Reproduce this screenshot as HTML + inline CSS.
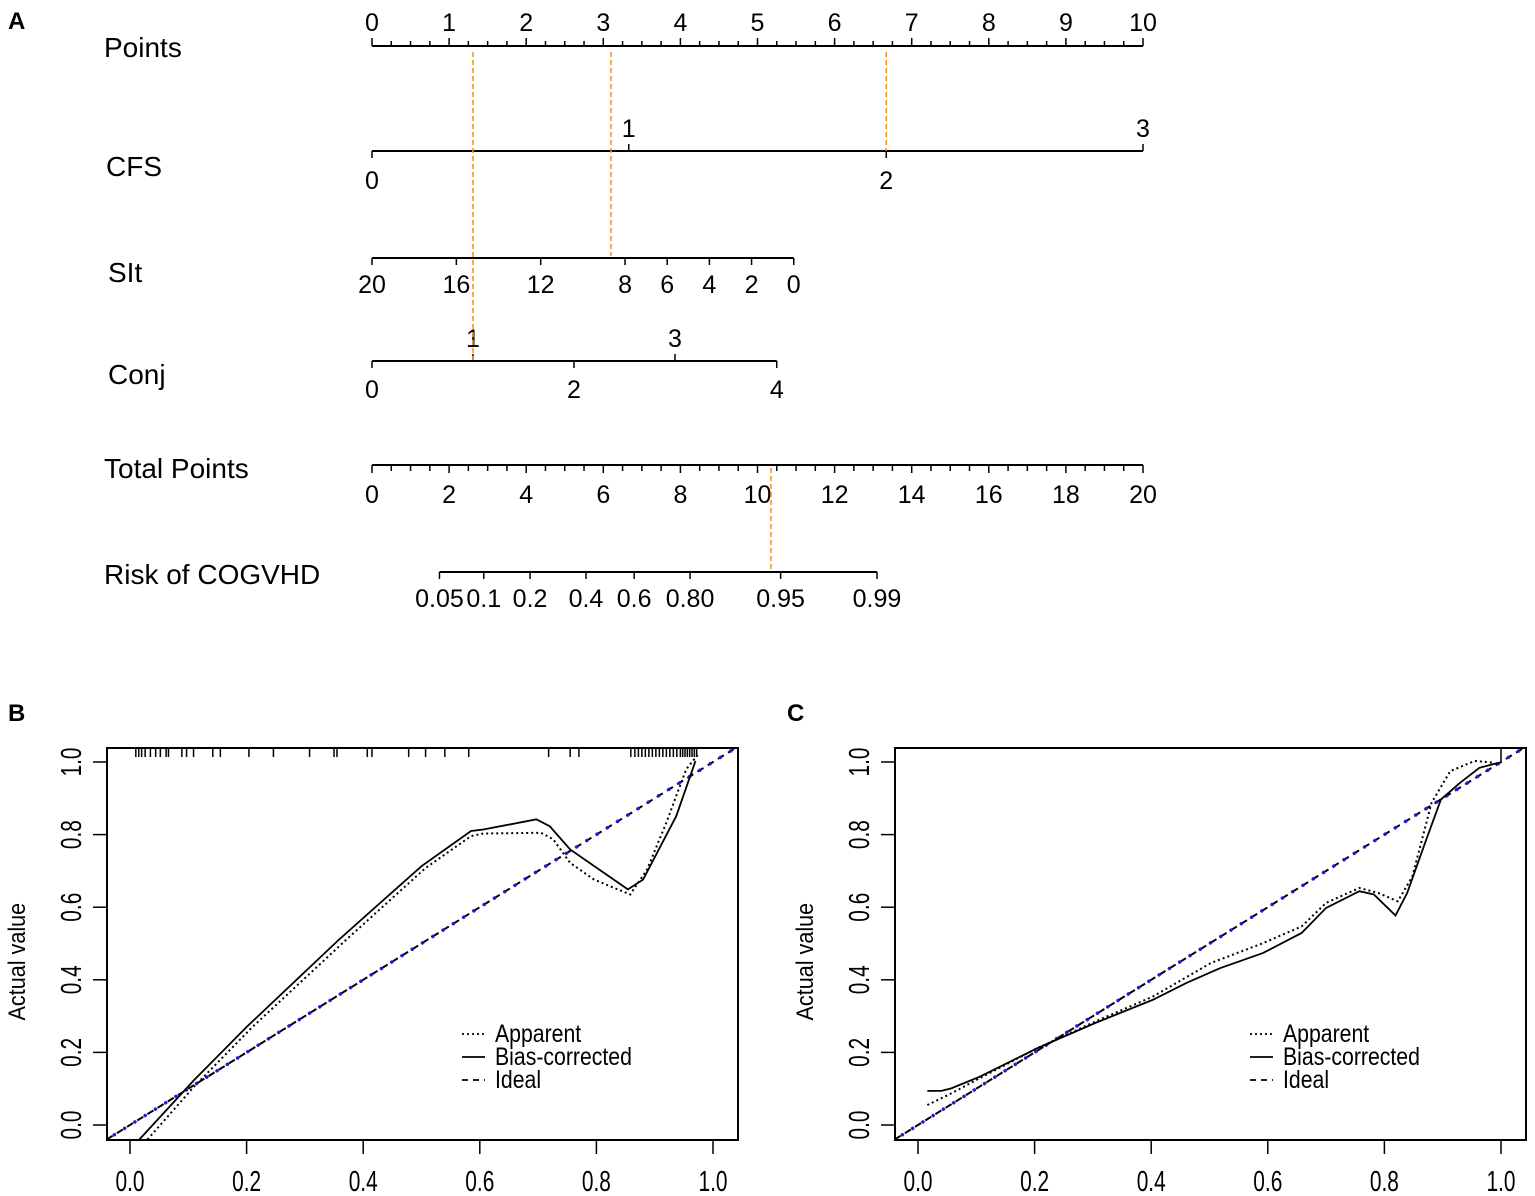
<!DOCTYPE html>
<html><head><meta charset="utf-8"><style>
html,body{margin:0;padding:0;background:#fff;}
svg{display:block;font-family:"Liberation Sans",Arial,sans-serif;}
</style></head><body>
<svg id="fig" width="1535" height="1196" viewBox="0 0 1535 1196" xmlns="http://www.w3.org/2000/svg">
<text x="8" y="29" font-size="24" font-weight="bold">A</text>
<text x="8" y="721" font-size="24" font-weight="bold">B</text>
<text x="787" y="721" font-size="24" font-weight="bold">C</text>
<g id="nomo"></g>
<g id="pb"></g>
<g id="pc"></g>
</svg>
<script>
// ---------- Nomogram data ----------
const pointsTicks=[0,1,2,3,4,5,6,7,8,9,10];
const cfsValues=[0,1,2,3];
const cfsPoints=[0,3.33,6.67,10];
const sltLabels=[20,16,12,8,6,4,2,0];
const sltMaxPoints=5.47;
const conjValues=[0,1,2,3,4];
const conjPoints=[0,1.31,2.62,3.93,5.25];
const totalTicks=[0,2,4,6,8,10,12,14,16,18,20];
const riskLabels=["0.05","0.1","0.2","0.4","0.6","0.80","0.95","0.99"];
const riskTotals=[1.75,2.9,4.1,5.55,6.8,8.25,10.6,13.1];
const examplePoints=[1.31,3.1,6.67];
const exampleTotal=10.35;

// ---------- Calibration data ----------
const rugB=[0.01,0.015,0.02,0.026,0.035,0.044,0.052,0.062,0.066,0.089,0.097,0.109,0.142,0.155,0.204,0.246,0.308,0.35,0.355,0.407,0.415,0.478,0.507,0.54,0.581,0.718,0.755,0.77,0.859,0.866,0.872,0.878,0.884,0.89,0.896,0.902,0.908,0.914,0.92,0.926,0.932,0.938,0.944,0.948,0.952,0.956,0.96,0.964,0.968,0.972];
const appB_x=[0.03,0.11,0.21,0.374,0.507,0.585,0.606,0.705,0.726,0.755,0.796,0.858,0.887,0.92,0.954,0.974];
const appB_y=[-0.04,0.106,0.27,0.515,0.708,0.796,0.803,0.805,0.787,0.722,0.676,0.635,0.704,0.833,0.98,1.02];
const biasB_x=[0.016,0.11,0.2,0.358,0.5,0.585,0.606,0.697,0.72,0.755,0.854,0.88,0.937,0.97];
const biasB_y=[-0.04,0.124,0.27,0.51,0.713,0.81,0.814,0.842,0.823,0.759,0.649,0.676,0.851,1.003];
const rugC=[1.0];
const appC_x=[0.016,0.057,0.106,0.205,0.304,0.403,0.502,0.592,0.658,0.70,0.757,0.79,0.823,0.848,0.881,0.913,0.955,0.988];
const appC_y=[0.055,0.087,0.129,0.212,0.285,0.354,0.446,0.501,0.547,0.612,0.653,0.639,0.616,0.685,0.888,0.975,1.003,0.998];
const biasC_x=[0.016,0.04,0.057,0.106,0.205,0.304,0.403,0.46,0.518,0.592,0.658,0.70,0.757,0.782,0.819,0.839,0.872,0.897,0.93,0.963,0.996];
const biasC_y=[0.094,0.094,0.101,0.133,0.212,0.281,0.345,0.391,0.432,0.474,0.529,0.598,0.644,0.635,0.577,0.639,0.787,0.897,0.943,0.984,0.998];
const axisTicks=[0,0.2,0.4,0.6,0.8,1.0];
const tickText=["0.0","0.2","0.4","0.6","0.8","1.0"];

const NS="http://www.w3.org/2000/svg";
function mk(parent,tag,attrs,txt){const e=document.createElementNS(NS,tag);for(const k in attrs)e.setAttribute(k,attrs[k]);if(txt!==undefined)e.textContent=txt;parent.appendChild(e);return e;}

// ---------- Nomogram ----------
const nomo=document.getElementById('nomo');
const P0=372,P1=1143;
const px=p=>P0+(P1-P0)*p/10;
const tx=t=>P0+(P1-P0)*t/20;
const F=25;
function rowLabel(txt,x,y,name){const e=mk(nomo,'text',{x:x,y:y,'font-size':28},txt);

}
rowLabel('Points',104,57,'points-label');
rowLabel('CFS',106,176,'cfs-label');
rowLabel('SIt',108,282,'slt-label');
rowLabel('Conj',108,384,'conj-label');
rowLabel('Total Points',104,478,'total-points-label');
rowLabel('Risk of COGVHD',104,584,'risk-label');

let ln=mk(nomo,'line',{x1:px(0),x2:px(10),y1:46,y2:46,stroke:'#000','stroke-width':2});


for(let i=0;i<=40;i++){const v=i/4;const l=mk(nomo,'line',{x1:px(v),x2:px(v),y1:46,y2:i%4==0?38:41,stroke:'#000','stroke-width':1.5});

}
pointsTicks.forEach(v=>{const t=mk(nomo,'text',{x:px(v),y:31,'font-size':F,'text-anchor':'middle'},String(v));

});

const cfsY=151;
ln=mk(nomo,'line',{x1:px(0),x2:px(10),y1:cfsY,y2:cfsY,stroke:'#000','stroke-width':2});


cfsValues.forEach((v,i)=>{const x=px(cfsPoints[i]);const up=(i%2==1);
const l=mk(nomo,'line',{x1:x,x2:x,y1:cfsY,y2:up?cfsY-7:cfsY+7,stroke:'#000','stroke-width':1.5});


const t=mk(nomo,'text',{x:x,y:up?cfsY-14:cfsY+38,'font-size':F,'text-anchor':'middle'},String(v));

});

const sY=258;
const sx=v=>px(sltMaxPoints*(20-v)/20);
ln=mk(nomo,'line',{x1:sx(20),x2:sx(0),y1:sY,y2:sY,stroke:'#000','stroke-width':2});


sltLabels.forEach(v=>{const x=sx(v);
const l=mk(nomo,'line',{x1:x,x2:x,y1:sY,y2:sY+7,stroke:'#000','stroke-width':1.5});


const t=mk(nomo,'text',{x:x,y:sY+35,'font-size':F,'text-anchor':'middle'},String(v));

});

const cY=361;
ln=mk(nomo,'line',{x1:px(0),x2:px(conjPoints[4]),y1:cY,y2:cY,stroke:'#000','stroke-width':2});


conjValues.forEach((v,i)=>{const x=px(conjPoints[i]);const up=(i%2==1);
const l=mk(nomo,'line',{x1:x,x2:x,y1:cY,y2:up?cY-7:cY+7,stroke:'#000','stroke-width':1.5});


const t=mk(nomo,'text',{x:x,y:up?cY-14:cY+37,'font-size':F,'text-anchor':'middle'},String(v));

});

const tY=465;
ln=mk(nomo,'line',{x1:tx(0),x2:tx(20),y1:tY,y2:tY,stroke:'#000','stroke-width':2});


for(let i=0;i<=40;i++){const v=i/2;const l=mk(nomo,'line',{x1:tx(v),x2:tx(v),y1:tY,y2:i%4==0?tY+8:tY+6,stroke:'#000','stroke-width':1.5});

}
totalTicks.forEach(v=>{const t=mk(nomo,'text',{x:tx(v),y:tY+38,'font-size':F,'text-anchor':'middle'},String(v));

});

const rY=572;
ln=mk(nomo,'line',{x1:tx(riskTotals[0]),x2:tx(riskTotals[riskTotals.length-1]),y1:rY,y2:rY,stroke:'#000','stroke-width':2});


riskLabels.forEach((lab,i)=>{const x=tx(riskTotals[i]);
const l=mk(nomo,'line',{x1:x,x2:x,y1:rY,y2:rY+7,stroke:'#000','stroke-width':1.5});


const t=mk(nomo,'text',{x:x,y:rY+35,'font-size':F,'text-anchor':'middle'},lab);

});

const ex=[[examplePoints[0],52,360],[examplePoints[1],52,256],[examplePoints[2],52,151]];
ex.forEach(e=>{const l=mk(nomo,'line',{x1:px(e[0]),x2:px(e[0]),y1:e[1],y2:e[2],stroke:'#f0901e','stroke-width':1.5,'stroke-dasharray':'5,3'});

});
ln=mk(nomo,'line',{x1:tx(exampleTotal),x2:tx(exampleTotal),y1:468,y2:571,stroke:'#f0901e','stroke-width':1.5,'stroke-dasharray':'5,3'});



// ---------- Calibration plots ----------
function calib(gid,ox,rug,ax,ay,bx,by){
const g=document.getElementById(gid);
const L=107+ox,R=738+ox,T=748,B=1140;
const x0=130+ox,xs=583;
const X=v=>x0+v*xs;
const Y=v=>1125-v*363;
const clip='clip'+gid;
const cp=mk(g,'clipPath',{id:clip});mk(cp,'rect',{x:L,y:T,width:R-L,height:B-T});
const box=mk(g,'rect',{x:L,y:T,width:R-L,height:B-T,fill:'none',stroke:'#000','stroke-width':2});


axisTicks.forEach((v,i)=>{
const a=mk(g,'line',{x1:X(v),x2:X(v),y1:B,y2:B+14,stroke:'#000','stroke-width':1.5});


const t=mk(g,'text',{x:0,y:0,'font-size':29,'text-anchor':'middle','transform':`translate(${X(v)},${B+51}) scale(0.72,1)`},tickText[i]);


const b=mk(g,'line',{x1:L,x2:L-14,y1:Y(v),y2:Y(v),stroke:'#000','stroke-width':1.5});


const u=mk(g,'text',{x:0,y:0,'font-size':29,'text-anchor':'middle','transform':`translate(${L-26},${Y(v)}) rotate(-90) scale(0.72,1)`},tickText[i]);

});
const yt=mk(g,'text',{x:0,y:0,'font-size':24,'text-anchor':'middle','transform':`translate(${25+ox},${Y(0.45)}) rotate(-90) scale(0.9,1)`},'Actual value');


rug.forEach(v=>{const l=mk(g,'line',{x1:X(v),x2:X(v),y1:T,y2:T+(v>=1?14:9),stroke:'#000','stroke-width':1.5});

});
const cg=mk(g,'g',{'clip-path':`url(#${clip})`});
const id1=mk(cg,'line',{x1:X(-0.04),y1:Y(-0.04),x2:X(1.04),y2:Y(1.04),stroke:'#000','stroke-width':2,'stroke-dasharray':'7,5'});


const id2=mk(cg,'line',{x1:X(-0.04),y1:Y(-0.04),x2:X(1.04),y2:Y(1.04),stroke:'#1a1ae0','stroke-width':3.5,'stroke-linecap':'round','stroke-dasharray':'0.1,12','stroke-dashoffset':-9});


const pa=mk(cg,'polyline',{points:ax.map((v,i)=>X(v)+','+Y(ay[i])).join(' '),fill:'none',stroke:'#000','stroke-width':2,'stroke-dasharray':'2,3'});


const pb=mk(cg,'polyline',{points:bx.map((v,i)=>X(v)+','+Y(by[i])).join(' '),fill:'none',stroke:'#000','stroke-width':1.8});


const lg=mk(g,'g',{});


const items=[['Apparent','2,3'],['Bias-corrected',''],['Ideal','6,5']];
items.forEach((it,i)=>{const y=1042+i*23;
const s=mk(lg,'line',{x1:462+ox,x2:485+ox,y1:y-8,y2:y-8,stroke:'#000','stroke-width':1.8,'stroke-dasharray':it[1]});


const t=mk(lg,'text',{x:0,y:0,'font-size':25,'transform':`translate(${495+ox},${y}) scale(0.85,1)`},it[0]);

});
}
calib('pb',0,rugB,appB_x,appB_y,biasB_x,biasB_y);
calib('pc',788,rugC,appC_x,appC_y,biasC_x,biasC_y);
</script>
</body></html>
